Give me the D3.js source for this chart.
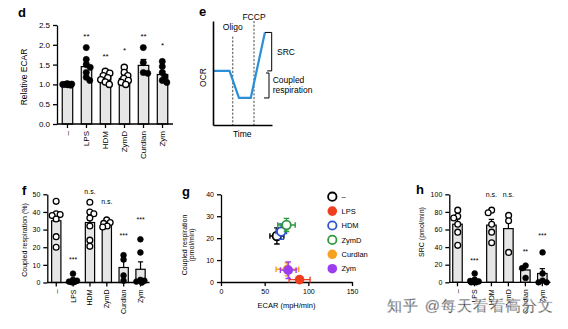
<!DOCTYPE html>
<html><head><meta charset="utf-8">
<script src="https://cdn.jsdelivr.net/npm/d3@7"></script>
<style>
body{margin:0;background:#fff}
svg{display:block}
text{font-family:"Liberation Sans",Arial,Helvetica,sans-serif;fill:#000}
</style>
</head><body>
<svg id="c" width="568" height="329"></svg>
<script>
// ---------- shared ----------
const categories = ["–","LPS","HDM","ZymD","Curdlan","Zym"];
const filledF = [false,true,false,false,true,true];
const filledD = [true,true,false,false,true,true];
const groupColors = ["#000000","#ef3d1f","#2e54d2","#2e9a3c","#f6a11f","#9c3ef0"];

// ---------- panel d : relative ECAR ----------
const ecarMean = [1.0,1.45,1.17,1.15,1.48,1.25];
const ecarSem  = [0.01,0.09,0.04,0.05,0.15,0.08];
const ecarPoints = [
  [1.0,1.01,0.99,1.0,1.02,0.98,1.0],
  [1.93,1.63,1.5,1.43,1.3,1.18,1.1],
  [1.33,1.28,1.22,1.17,1.12,1.06,1.0],
  [1.43,1.3,1.22,1.15,1.1,1.05,1.0],
  [1.93,1.55,1.3,1.28],
  [1.58,1.45,1.3,1.2,1.1,1.05]
];
const ecarSig  = ["","**","**","*","**","*"];
const ecarSigY = [null,2.26,1.74,1.91,2.26,2.02];
const ecarTicks = [0,0.5,1.0,1.5,2.0,2.5];

// ---------- panel e : OCR schematic ----------
const traceTime = [0,2.8,4.4,6.4,8.8];
const traceOCR  = [5.2,5.2,2.6,2.6,8.9];
const injections = ["Oligo","FCCP"];
const injectionTime = [3.35,6.95];
const injectionTop  = [8.5,10];
const srcRange = [5.2,8.9];
const coupledRange = [2.6,5.0];

// ---------- panel f : coupled respiration (%) ----------
const coupledMean = [35,0.9,34,33,8.5,7.5];
const coupledSem  = [3.3,0.7,3.5,1.0,3.5,4.2];
const coupledPoints = [
  [46,39,38.5,38,36,26,20],
  [5,1.5,1,0.5,0.3,0.2,0.1],
  [45.5,40,39,36.5,32,24,20.5],
  [35.5,34,33.5,32,31.5],
  [15.5,13,4,1],
  [24.5,17,1.5,0.5,0,1]
];
const coupledSig  = ["","***","n.s.","n.s.","***","***"];
const coupledSigY = [null,13.6,51,45.3,27.5,36.4];
const coupledTicks = [0,10,20,30,40,50];

// ---------- panel g : OCR vs ECAR ----------
const scatterX = [64,90,69,75,76,77];
const scatterXErr = [8,12,6,10,13,9];
const scatterY = [21,1.1,23,26,5.8,5.4];
const scatterYErr = [3.7,1,3.5,3,3,3.8];
const gxTicks = [0,50,100,150];
const gyTicks = [0,10,20,30,40];

// ---------- panel h : SRC ----------
const srcMean = [66,2.2,65,61,14,10];
const srcSem  = [6,1.4,6.5,10,4,5.5];
const srcPoints = [
  [82,75,73,66,57,42],
  [10,3,1.5,1,0.5,0,0],
  [82,79,66,57,45],
  [76,70,34],
  [19,16,5],
  [34,10,2,0,0]
];
const srcSig  = ["","***","n.s.","n.s.","**","***"];
const srcSigY = [null,26,99,99,37,54.5];
const srcTicks = [0,20,40,60,80,100];

const svg = d3.select("#c");
svg.append("rect").attr("width",568).attr("height",329).attr("fill","#fff");

function dodge(vals, y, r, maxOff){
  const idx = vals.map((v,i)=>i).sort((a,b)=>vals[b]-vals[a]);
  const placed = [], off = new Array(vals.length).fill(0);
  const cands = d3.range(-maxOff, maxOff+0.001, 0.5);
  idx.forEach(i=>{
    const py = y(vals[i]);
    let best = 0, bestScore = -Infinity;
    cands.forEach(c=>{
      let md = Infinity;
      placed.forEach(p=>{ md = Math.min(md, Math.hypot(p.x-c, p.y-py)); });
      const score = Math.min(md, 1.5*r) - Math.abs(c)*0.05;
      if (score > bestScore){ bestScore = score; best = c; }
    });
    off[i] = best; placed.push({x:best, y:py});
  });
  return off;
}

function styleAxis(g, fs){
  g.selectAll("path,line").attr("stroke","#000").attr("stroke-width",1.3);
  g.selectAll("text").attr("font-size",fs).attr("font-family",'"Liberation Sans",Arial,sans-serif').attr("fill","#000");
}

function barPanel(o){
  const g = svg.append("g");
  const x = d3.scaleBand().domain(categories).range([o.x0,o.x1]).paddingInner(o.pi).paddingOuter(o.po);
  const y = d3.scaleLinear().domain([0,o.ymax]).range([o.yb,o.yt]);
  const bw = x.bandwidth();
  g.selectAll("rect.bar").data(categories).join("rect")
    .attr("x",d=>x(d)).attr("width",bw)
    .attr("y",(d,i)=>y(o.mean[i])).attr("height",(d,i)=>y(0)-y(o.mean[i]))
    .attr("fill","#e6e6e6").attr("stroke","#000").attr("stroke-width",1.2);
  categories.forEach((c,i)=>{
    const cx = x(c)+bw/2;
    g.append("line").attr("x1",cx).attr("x2",cx)
      .attr("y1",y(o.mean[i])).attr("y2",y(o.mean[i]+o.sem[i]))
      .attr("stroke","#000").attr("stroke-width",1.2);
    g.append("line").attr("x1",cx-bw*0.28).attr("x2",cx+bw*0.28)
      .attr("y1",y(o.mean[i]+o.sem[i])).attr("y2",y(o.mean[i]+o.sem[i]))
      .attr("stroke","#000").attr("stroke-width",1.2);
  });
  categories.forEach((c,i)=>{
    const cx = x(c)+bw/2;
    const off = dodge(o.points[i], y, o.r, bw/2-0.5);
    o.points[i].forEach((v,j)=>{
      g.append("circle").attr("cx",cx+off[j]).attr("cy",y(v)).attr("r",o.r)
        .attr("fill",o.filled[i]?"#000":"#fff").attr("stroke","#000")
        .attr("stroke-width",o.filled[i]?0.6:1.3);
    });
  });
  const ya = g.append("g").attr("transform",`translate(${o.x0},0)`)
    .call(d3.axisLeft(y).tickValues(o.ticks).tickFormat(o.fmt).tickSize(4).tickSizeOuter(0));
  styleAxis(ya,o.fs);
  const xa = g.append("g").attr("transform",`translate(0,${o.yb})`)
    .call(d3.axisBottom(x).tickSize(4).tickSizeOuter(0));
  xa.select(".domain").attr("d",`M${o.x0},0H${o.x1}`);
  styleAxis(xa,o.fs);
  xa.selectAll("text").attr("transform","rotate(-90)").attr("text-anchor","end")
    .attr("x",-o.lab).attr("y",0).attr("dy","0.35em");
  categories.forEach((c,i)=>{
    if(!o.sig[i]) return;
    const star = o.sig[i].includes("*");
    g.append("text").attr("x",x(c)+bw/2).attr("y",y(o.sigY[i])+(star?0.55:0.25)*o.fs)
      .attr("text-anchor","middle").attr("font-size",o.fs).attr("fill","#000").text(o.sig[i]);
  });
  g.append("text").attr("transform",`translate(${o.tx},${o.ty}) rotate(-90)`)
    .attr("text-anchor","middle").attr("font-size",o.tfs).text(o.title);
  g.append("text").attr("x",o.lx).attr("y",o.ly).attr("font-size",13).attr("font-weight","bold").text(o.label);
}

barPanel({x0:57,x1:173,pi:0.45,po:0.276,yb:124,yt:25,ymax:2.5,mean:ecarMean,sem:ecarSem,
  points:ecarPoints,filled:filledD,sig:ecarSig,sigY:ecarSigY,ticks:ecarTicks,fmt:d3.format(".1f"),
  fs:8,r:3.1,lab:7,title:"Relative ECAR",tx:26.5,ty:77,tfs:8.5,label:"d",lx:18,ly:16.5});
barPanel({x0:47.3,x1:149.5,pi:0.45,po:0.257,yb:282.5,yt:194.3,ymax:50,mean:coupledMean,sem:coupledSem,
  points:coupledPoints,filled:filledF,sig:coupledSig,sigY:coupledSigY,ticks:coupledTicks,fmt:d3.format("d"),
  fs:7,r:2.9,lab:7,title:"Coupled respiration (%)",tx:26.5,ty:240,tfs:7,label:"f",lx:22,ly:194.5});
barPanel({x0:449.3,x1:550.5,pi:0.44,po:0.202,yb:282.3,yt:194.3,ymax:100,mean:srcMean,sem:srcSem,
  points:srcPoints,filled:filledF,sig:srcSig,sigY:srcSigY,ticks:srcTicks,fmt:d3.format("d"),
  fs:7,r:2.9,lab:7,title:"SRC (pmol/min)",tx:423.5,ty:232,tfs:7,label:"h",lx:416,ly:194});

// ---------- e ----------
(function(){
  const g = svg.append("g");
  const t = d3.scaleLinear().domain([0,10]).range([213,272]);
  const o = d3.scaleLinear().domain([0,10]).range([125,21]);
  injections.forEach((name,i)=>{
    g.append("line").attr("x1",t(injectionTime[i])).attr("x2",t(injectionTime[i]))
      .attr("y1",o(injectionTop[i])).attr("y2",o(0))
      .attr("stroke","#333").attr("stroke-width",0.9).attr("stroke-dasharray","2.2,1.6");
  });
  g.append("text").attr("x",t(injectionTime[0])).attr("y",29.5).attr("text-anchor","middle").attr("font-size",8.5).text(injections[0]);
  g.append("text").attr("x",t(injectionTime[1])).attr("y",20).attr("text-anchor","middle").attr("font-size",8.5).text(injections[1]);
  const line = d3.line().x(d=>t(d[0])).y(d=>o(d[1]));
  g.append("path").datum(traceTime.map((v,i)=>[v,traceOCR[i]])).attr("d",line)
    .attr("fill","none").attr("stroke","#2a8fd8").attr("stroke-width",2.2).attr("stroke-linejoin","miter");
  const ya = g.append("g").attr("transform",`translate(${t(0)},0)`).call(d3.axisLeft(o).ticks(0).tickSizeOuter(0));
  const xa = g.append("g").attr("transform",`translate(0,${o(0)})`).call(d3.axisBottom(t).ticks(0).tickSizeOuter(0));
  [ya,xa].forEach(a=>a.select(".domain").attr("stroke","#000").attr("stroke-width",1.6));
  const bx1 = 271.7, bx2 = 269;
  g.append("path").attr("d",`M${t(traceTime[4])},${o(srcRange[1])}H${bx1}V${o(srcRange[0])}H${bx1-4.5}`)
    .attr("fill","none").attr("stroke","#000").attr("stroke-width",1);
  g.append("path").attr("d",`M${bx2-3},${o(coupledRange[1])}H${bx2}V${o(coupledRange[0])}H${bx2-5}`)
    .attr("fill","none").attr("stroke","#000").attr("stroke-width",1);
  g.append("text").attr("x",277).attr("y",54.5).attr("font-size",8.5).text("SRC");
  g.append("text").attr("x",272.7).attr("y",83).attr("font-size",8.5).text("Coupled");
  g.append("text").attr("x",272.7).attr("y",93).attr("font-size",8.5).text("respiration");
  g.append("text").attr("transform","translate(206,77.5) rotate(-90)").attr("text-anchor","middle").attr("font-size",8.5).text("OCR");
  g.append("text").attr("x",242.2).attr("y",136.7).attr("text-anchor","middle").attr("font-size",8.5).text("Time");
  g.append("text").attr("x",199).attr("y",16).attr("font-size",13).attr("font-weight","bold").text("e");
})();

// ---------- g ----------
(function(){
  const g = svg.append("g");
  const x = d3.scaleLinear().domain([0,150]).range([221,352]);
  const y = d3.scaleLinear().domain([0,40]).range([282,194.3]);
  const xa = g.append("g").attr("transform",`translate(0,${y(0)})`)
    .call(d3.axisBottom(x).tickValues(gxTicks).tickSize(4).tickSizeOuter(0));
  styleAxis(xa,7);
  const ya = g.append("g").attr("transform",`translate(${x(0)},0)`)
    .call(d3.axisLeft(y).tickValues(gyTicks).tickSize(4).tickSizeOuter(0));
  styleAxis(ya,7);
  categories.forEach((c,i)=>{
    const col = groupColors[i], cx = x(scatterX[i]), cy = y(scatterY[i]);
    const xl = x(scatterX[i]-scatterXErr[i]), xr = x(scatterX[i]+scatterXErr[i]);
    const yt = y(scatterY[i]+scatterYErr[i]), ybm = y(Math.max(0,scatterY[i]-scatterYErr[i]));
    const eg = g.append("g").attr("stroke",col).attr("stroke-width",1.4).attr("fill","none");
    eg.append("path").attr("d",`M${xl},${cy}H${xr}M${xl},${cy-2.8}V${cy+2.8}M${xr},${cy-2.8}V${cy+2.8}`);
    eg.append("path").attr("d",`M${cx},${yt}V${ybm}M${cx-2.8},${yt}H${cx+2.8}M${cx-2.8},${ybm}H${cx+2.8}`);
    const open = (i===0||i===2||i===3);
    g.append("circle").attr("cx",cx).attr("cy",cy).attr("r",open?4.3:4.8)
      .attr("fill",open?"#fff":col).attr("stroke",col).attr("stroke-width",open?1.8:0);
  });
  categories.forEach((c,i)=>{
    const ly = 196.7 + i*14.4;
    const open = (i===0||i===2||i===3);
    g.append("circle").attr("cx",332.3).attr("cy",ly).attr("r",open?4.2:4.8)
      .attr("fill",open?"#fff":groupColors[i]).attr("stroke",groupColors[i]).attr("stroke-width",open?1.8:0);
    g.append("text").attr("x",341.5).attr("y",ly).attr("dy","0.35em").attr("font-size",7.5).text(c);
  });
  g.append("text").attr("x",286.5).attr("y",308).attr("text-anchor","middle").attr("font-size",7.5).text("ECAR (mpH/min)");
  g.append("text").attr("transform","translate(186.5,245) rotate(-90)").attr("text-anchor","middle").attr("font-size",7).text("Coupled respiration");
  g.append("text").attr("transform","translate(194,245) rotate(-90)").attr("text-anchor","middle").attr("font-size",7).text("(pmol/min)");
  g.append("text").attr("x",182).attr("y",195.5).attr("font-size",13).attr("font-weight","bold").text("g");
})();

// watermark
svg.append("text").attr("x",387).attr("y",311).attr("font-size",15)
  .attr("font-family",'"Noto Sans CJK SC",sans-serif').attr("textLength",166)
  .attr("fill","#e4e4e4").attr("stroke","#cfcfcf").attr("stroke-width",0.5).attr("opacity",0.9)
  .text("知乎 @每天看看高分文");
</script>
</body></html>
